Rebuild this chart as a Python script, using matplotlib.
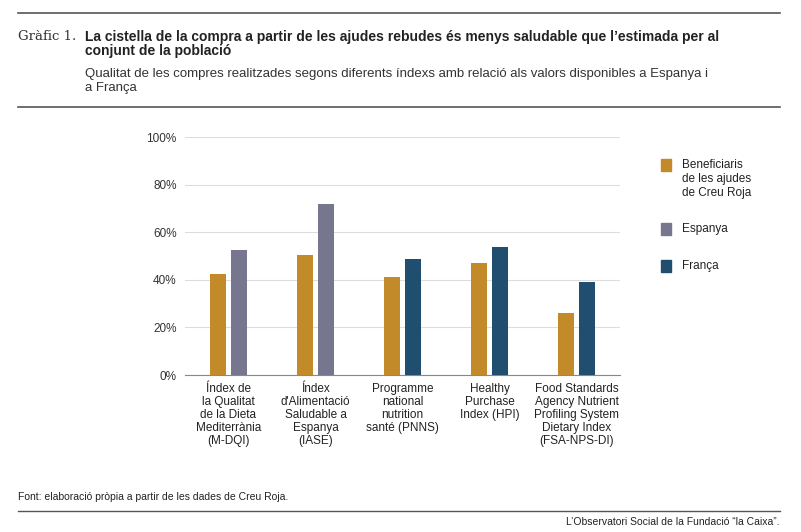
import matplotlib.pyplot as plt
import numpy as np

plt.rcParams['font.family'] = ['Liberation Sans', 'DejaVu Sans']

categories = ["Índex de\nla Qualitat\nde la Dieta\nMediterrània\n(M-DQI)",
              "Índex\nd'Alimentació\nSaludable a\nEspanya\n(IASE)",
              "Programme\nnational\nnutrition\nsanté (PNNS)",
              "Healthy\nPurchase\nIndex (HPI)",
              "Food Standards\nAgency Nutrient\nProfiling System\nDietary Index\n(FSA-NPS-DI)"]
beneficiaris = [42.4, 50.4, 41.2, 47.0, 26.0]
referencia = [52.5, 71.8, 48.7, 53.8, 39.0]
ref_pais = ["Espanya", "Espanya", "França", "França", "França"]

gold, purple, blue = "#C38A2A", "#76768F", "#1F4E6F"

fig = plt.figure(figsize=(8.01, 5.32), dpi=100)
ax = fig.add_axes([185/801, 1-375/532, 435/801, 238/532])

x = np.arange(len(categories))
w = 0.19
ax.bar(x - 0.12, beneficiaris, w, color=gold, zorder=3)
ax.bar(x + 0.12, referencia, w, color=[purple if p == "Espanya" else blue for p in ref_pais], zorder=3)

ax.set_ylim(0, 100)
ax.set_xlim(-0.5, 4.5)
ax.set_yticks(range(0, 101, 20))
ax.set_yticklabels([f"{v}%" for v in range(0, 101, 20)], fontsize=8.5, color="#333333")
ax.set_xticks(x)
ax.set_xticklabels(categories, fontsize=8.5, color="#222222", linespacing=1.1)
ax.tick_params(length=0, pad=6)
ax.yaxis.grid(True, color="#dddddd", lw=0.8, zorder=0)
for s in ["top", "right", "left"]:
    ax.spines[s].set_visible(False)
ax.spines["bottom"].set_color("#888888")

# legend
for yy, col, lab in [(165, gold, "Beneficiaris\nde les ajudes\nde Creu Roja"), (229, purple, "Espanya"), (266, blue, "França")]:
    fig.patches.append(plt.Rectangle((661/801, 1-(yy+6)/532), 10/801, 12/532, color=col, transform=fig.transFigure))
    fig.text(682/801, 1-(yy-6)/532, lab, fontsize=8.5, va="top", color="#222222", linespacing=1.2)

# header
fig.add_artist(plt.Line2D([18/801, 780/801], [1-13/532]*2, color="#555555", lw=1.2))
fig.text(18/801, 1-37/532, "Gràfic 1.", family="DejaVu Serif", fontsize=9.5, va="center", color="#333333")
fig.text(85/801, 1-44/532, "La cistella de la compra a partir de les ajudes rebudes és menys saludable que l’estimada per al\nconjunt de la població",
         fontsize=10, fontweight="bold", va="center", color="#222222", linespacing=1.0)
fig.text(85/801, 1-81/532, "Qualitat de les compres realitzades segons diferents índexs amb relació als valors disponibles a Espanya i\na França",
         fontsize=9.5, va="center", color="#333333", linespacing=1.25)
fig.add_artist(plt.Line2D([18/801, 780/801], [1-107/532]*2, color="#555555", lw=1.2))

# footer
fig.text(18/801, 1-497/532, "Font: elaboració pròpia a partir de les dades de Creu Roja.", fontsize=7.5, va="center", color="#222222")
fig.add_artist(plt.Line2D([18/801, 780/801], [1-511/532]*2, color="#555555", lw=1))
fig.text(780/801, 1-522/532, "L’Observatori Social de la Fundació “la Caixa”.", fontsize=7.5, va="center", ha="right", color="#222222")

fig.savefig("out.png", dpi=100)
